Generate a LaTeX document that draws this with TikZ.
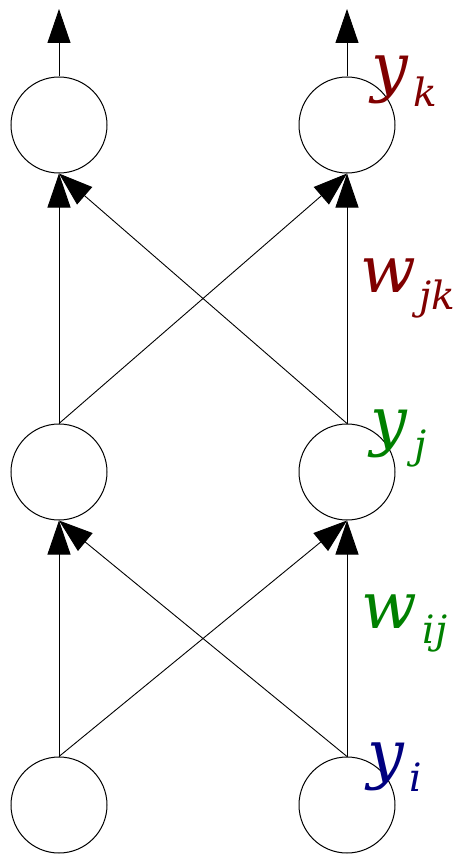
\documentclass[tikz,border=0pt]{standalone}
\usepackage{fontspec}
\usetikzlibrary{arrows.meta}
\newfontfamily\lblfont{DejaVu Serif}
\definecolor{lred}{HTML}{800000}
\definecolor{lgreen}{HTML}{008000}
\definecolor{lblue}{HTML}{000080}
\newcommand{\mainsz}{\fontsize{65}{65}\selectfont}
\newcommand{\subsz}{\fontsize{39}{39}\selectfont}
\begin{document}
\begin{tikzpicture}[x=1pt,y=-1pt,
  neuron/.style={circle,draw,line width=1pt,minimum size=96pt,inner sep=0pt},
  conn/.style={line width=0.9pt,-{Triangle[length=34pt,width=23pt]}},
  lbl/.style={anchor=base west,inner sep=0pt,font=\lblfont\itshape\mainsz}]
\useasboundingbox (0,0) rectangle (454,856);
\node[neuron] (i1) at (59,805) {};
\node[neuron] (i2) at (347,805) {};
\node[neuron] (j1) at (59,472) {};
\node[neuron] (j2) at (347,472) {};
\node[neuron] (k1) at (59,125) {};
\node[neuron] (k2) at (347,125) {};
\coordinate (o1) at (59,9);
\coordinate (o2) at (347,9);
\draw[conn] (i1.north) -- (j1.south);
\draw[conn] (i2.north) -- (j1.south);
\draw[conn] (i1.north) -- (j2.south);
\draw[conn] (i2.north) -- (j2.south);
\draw[conn] (j1.north) -- (k1.south);
\draw[conn] (j2.north) -- (k1.south);
\draw[conn] (j1.north) -- (k2.south);
\draw[conn] (j2.north) -- (k2.south);
\draw[conn] (k1.north) -- (o1);
\draw[conn] (k2.north) -- (o2);
\node[lbl,text=lred] (yk) at (371,90) {y\kern6pt\raisebox{-17pt}{\subsz k}};
\node[lbl,text=lred] (wjk) at (360,292) {w\kern4pt\raisebox{-17pt}{\subsz jk}};
\node[lbl,text=lgreen] (yj) at (370,443) {y\kern8pt\raisebox{-15pt}{\subsz j}};
\node[lbl,text=lgreen] (wij) at (361,628) {w\kern6pt\raisebox{-15pt}{\subsz ij}};
\node[lbl,text=lblue] (yi) at (367,776) {y\kern6pt\raisebox{-15pt}{\subsz i}};
\end{tikzpicture}
\end{document}
